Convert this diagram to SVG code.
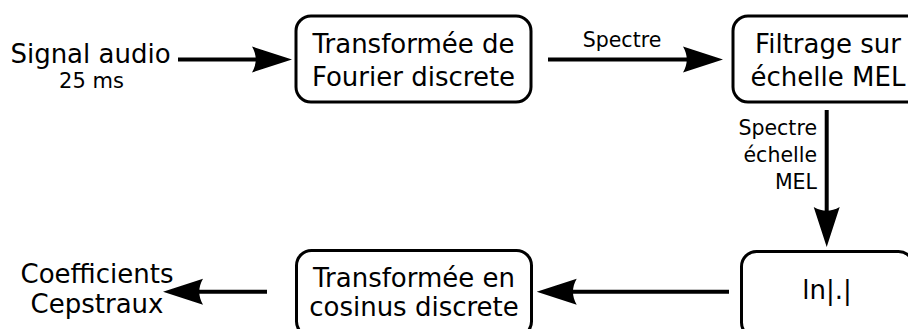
<svg xmlns="http://www.w3.org/2000/svg" width="908" height="329" viewBox="0 0 908 329">
<style>
.box{fill:#fff;stroke:#000;stroke-width:3}
.t{font-family:"DejaVu Sans",sans-serif;fill:#000;text-anchor:middle}
.big{font-size:26px}
.sm{font-size:20.5px}
.conn{stroke:#000;stroke-width:4;fill:none;marker-end:url(#ah)}
</style>
<defs>
<marker id="ah" markerUnits="userSpaceOnUse" markerWidth="44" markerHeight="30" refX="18" refY="0" viewBox="0 -15 44 30" orient="auto" overflow="visible">
<path d="M40,0 L0,-13 C5,-4 5,4 0,13 Z" fill="#000"/>
</marker>
</defs>
<rect width="908" height="329" fill="#fff"/>
<g id="connectors">
<line class="conn" x1="178" y1="59.5" x2="270" y2="59.5"/>
<line class="conn" x1="548" y1="59.5" x2="701" y2="59.5"/>
<line class="conn" x1="826.7" y1="110" x2="826.7" y2="225"/>
<line class="conn" x1="729" y1="291.7" x2="558.7" y2="291.7"/>
<line class="conn" x1="267" y1="291.7" x2="185" y2="291.7"/>
<text class="t sm" x="622" y="46.7">Spectre</text>
<g class="t sm" style="text-anchor:end">
<text x="817" y="135">Spectre</text>
<text x="817" y="162">échelle</text>
<text x="817" y="188.5">MEL</text>
</g>
</g>
<g id="signal">
<text class="t big" x="90.5" y="63">Signal audio</text>
<text class="t" x="91.5" y="88.3" style="font-size:21px">25 ms</text>
</g>
<g id="tfd">
<rect class="box" x="296" y="16" width="235" height="86" rx="15"/>
<text class="t big" x="413.5" y="53.3">Transformée de</text>
<text class="t big" x="413.5" y="86">Fourier discrete</text>
</g>
<g id="mel">
<rect class="box" x="733" y="16" width="190" height="86" rx="15"/>
<text class="t big" x="828" y="53.3">Filtrage sur</text>
<text class="t big" x="828" y="85.5">échelle MEL</text>
</g>
<g id="ln">
<rect class="box" x="741.5" y="251.5" width="172" height="86" rx="15"/>
<text class="t big" x="827" y="299.3">ln|.|</text>
</g>
<g id="tcd">
<rect class="box" x="296.5" y="250.5" width="235" height="86" rx="15"/>
<text class="t big" x="414" y="286.7">Transformée en</text>
<text class="t big" x="414" y="316">cosinus discrete</text>
</g>
<g id="coef">
<text class="t big" x="97" y="283">Coefficients</text>
<text class="t big" x="97" y="313">Cepstraux</text>
</g>
</svg>
